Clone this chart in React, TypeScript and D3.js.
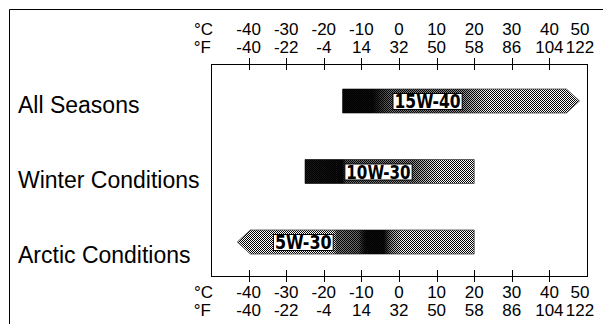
import React from "react";
import * as d3 from "d3";

const celsiusTicks = [-40, -30, -20, -10, 0, 10, 20, 30, 40, 50];
const fahrenheitLabels = ["-40", "-22", "-4", "14", "32", "50", "58", "86", "104", "122"];
const categories = ["All Seasons", "Winter Conditions", "Arctic Conditions"];
const grades = ["15W-40", "10W-30", "5W-30"];
const rangeStart = [-15, -25, -43];
const rangeEnd = [48, 20, 20];
const openLow = [false, false, true];
const openHigh = [true, false, false];
const labelFrom = [-1.6, -14.4, -33.4];
const labelTo = [16.8, 3.5, -17.5];
// dark shading along each bar: [°C, darkness]
const shading: [number, number][][] = [
  [[-15, 0.95], [-7, 0.95], [-2, 0.55], [17, 0.45], [24, 0]],
  [[-25, 0.9], [-15, 0.95], [-14, 0.6], [4, 0.45], [11, 0]],
  [[-17.5, 0], [-16.5, 0.5], [-11, 0.6], [-9, 0.95], [-4, 0.95], [-2, 0.4], [1, 0]],
];

const W = 603;
const H = 324;
const FONT = "'Liberation Sans', Arial, Helvetica, sans-serif";
const NARROW = "'Liberation Sans Narrow', 'DejaVu Sans Condensed', 'Liberation Sans', Arial, sans-serif";

export default function App() {
  const left = 211, right = 587, top = 64, bottom = 276;
  const x = d3.scaleLinear().domain([-50, 50]).range([left, right]);
  const yBar = d3.scalePoint<string>().domain(categories).range([101, 242]);
  const yLabel = d3.scalePoint<string>().domain(categories).range([113, 263]);
  const barH = 24;
  const head = 13;
  const tickVals = celsiusTicks.filter((t) => t < 50);

  const labelX = (i: number) => (i === celsiusTicks.length - 1 ? x(celsiusTicks[i]) - 7 : x(celsiusTicks[i]));

  const axisRows = (cy: number, fy: number) => (
    <g fontFamily={FONT} fontSize={17} fill="#000">
      <text x={213} y={cy} textAnchor="end">°C</text>
      <text x={211} y={fy} textAnchor="end">°F</text>
      {celsiusTicks.map((t, i) => (
        <text key={"c" + i} x={labelX(i)} y={cy} textAnchor="middle">{t}</text>
      ))}
      {fahrenheitLabels.map((f, i) => (
        <text key={"f" + i} x={labelX(i)} y={fy} textAnchor="middle">{f}</text>
      ))}
    </g>
  );

  const barPath = (i: number) => {
    const x0 = x(rangeStart[i]);
    const x1 = x(rangeEnd[i]);
    const yc = yBar(categories[i])!;
    const yt = yc - barH / 2;
    const yb = yc + barH / 2;
    const p = d3.path();
    if (openLow[i]) {
      p.moveTo(x0, yc);
      p.lineTo(x0 + head, yt);
    } else {
      p.moveTo(x0, yb);
      p.lineTo(x0, yt);
    }
    if (openHigh[i]) {
      p.lineTo(x1 - head, yt);
      p.lineTo(x1, yc);
      p.lineTo(x1 - head, yb);
    } else {
      p.lineTo(x1, yt);
      p.lineTo(x1, yb);
    }
    if (openLow[i]) p.lineTo(x0 + head, yb);
    p.closePath();
    return p.toString();
  };

  return (
    <svg width={W} height={H} style={{ position: "absolute", left: 0, top: 0, background: "#fff" }}>
      <defs>
        <pattern id="stipple" width={2} height={2} patternUnits="userSpaceOnUse">
          <rect width={2} height={2} fill="#fff" />
          <rect x={0} y={0} width={1} height={1} fill="#000" />
          <rect x={1} y={1} width={1} height={1} fill="#000" />
        </pattern>
        {shading.map((stops, i) => (
          <linearGradient
            key={i}
            id={"shade" + i}
            gradientUnits="userSpaceOnUse"
            x1={x(-50)}
            x2={x(50)}
            y1={0}
            y2={0}
          >
            {stops.map(([c, o], j) => (
              <stop key={j} offset={(c + 50) / 100} stopColor="#000" stopOpacity={o} />
            ))}
          </linearGradient>
        ))}
      </defs>

      {/* outer frame */}
      <line x1={9.5} y1={9.5} x2={W} y2={9.5} stroke="#000" strokeWidth={1} />
      <line x1={9.5} y1={9.5} x2={9.5} y2={H} stroke="#000" strokeWidth={1} />

      {/* plot box */}
      <rect x={left + 0.5} y={top + 0.5} width={right - left} height={bottom - top} fill="none" stroke="#000" strokeWidth={1} />

      {/* ticks */}
      {tickVals.map((t) => (
        <g key={"t" + t}>
          <line x1={Math.round(x(t)) + 0.5} x2={Math.round(x(t)) + 0.5} y1={top - 6} y2={top + 6} stroke="#000" />
          <line x1={Math.round(x(t)) + 0.5} x2={Math.round(x(t)) + 0.5} y1={bottom - 6} y2={bottom + 6} stroke="#000" />
        </g>
      ))}

      {axisRows(35, 53)}
      {axisRows(298, 316)}

      {/* category labels */}
      {categories.map((c) => (
        <text key={c} x={18} y={yLabel(c)} fontFamily={FONT} fontSize={23} fill="#000">{c}</text>
      ))}

      {/* bars */}
      {categories.map((c, i) => {
        const yc = yBar(c)!;
        const d = barPath(i);
        const lx0 = x(labelFrom[i]);
        const lx1 = x(labelTo[i]);
        return (
          <g key={"b" + i}>
            <path d={d} fill="url(#stipple)" stroke="#444" strokeWidth={0.8} />
            <path d={d} fill={`url(#shade${i})`} />
            <rect x={lx0} y={yc - 7.5} width={lx1 - lx0} height={16} fill="#fff" stroke="#000" strokeWidth={1} />
            <text
              x={lx0 + 1.5}
              y={yc + 7}
              fontFamily={NARROW}
              fontSize={19}
              fontWeight="bold"
              textLength={lx1 - lx0 - 3}
              lengthAdjust="spacingAndGlyphs"
              fill="#000"
            >
              {grades[i]}
            </text>
          </g>
        );
      })}
    </svg>
  );
}
